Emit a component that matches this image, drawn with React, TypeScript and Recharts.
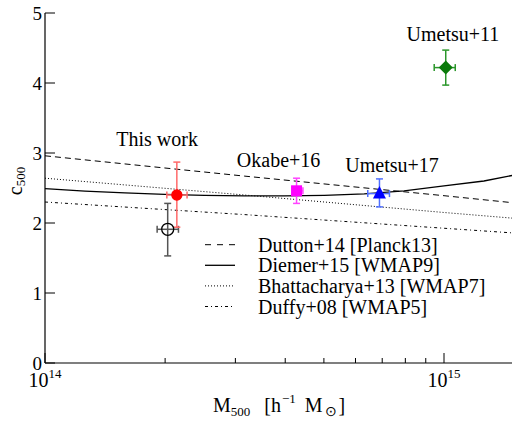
import React from 'react';
import { ComposedChart, Line, Scatter, XAxis, YAxis, ErrorBar } from 'recharts';

const FONT = "'Liberation Serif','Times New Roman',Times,serif";

// model curves (mass in h^-1 Msun, concentration c500)
const modelMass = [1e14, 3.162e14, 1e15, 1.515e15];
const duttonC = [2.96, 2.67, 2.39, 2.285];
const bhattC = [2.64, 2.4, 2.15, 2.065];
const duffyC = [2.3, 2.12, 1.925, 1.855];

const diemerMass = [1e14, 1.259e14, 1.585e14, 1.995e14, 2.512e14, 3.162e14, 3.981e14, 5.012e14, 6.31e14, 7.943e14, 1e15, 1.259e15, 1.515e15];
const diemerC = [2.49, 2.455, 2.43, 2.41, 2.395, 2.387, 2.387, 2.395, 2.415, 2.46, 2.53, 2.6, 2.69];

// observations
const obsNames = ['This work', 'Black', 'Okabe+16', 'Umetsu+17', 'Umetsu+11'];
const obsMass = [2.14e14, 2.03e14, 4.27e14, 6.89e14, 1.01e15];
const obsC = [2.4, 1.91, 2.46, 2.42, 4.22];
const massErrLo = [0.12e14, 0.12e14, 0.09e14, 0.45e14, 0.065e15];
const massErrHi = [0.13e14, 0.13e14, 0.16e14, 0.41e14, 0.057e15];
const cErrLo = [0.46, 0.38, 0.18, 0.19, 0.25];
const cErrHi = [0.47, 0.37, 0.18, 0.21, 0.25];

// annotation texts and anchor (data coords)
const annText = ['This work', 'Okabe+16', 'Umetsu+17', 'Umetsu+11'];
const annMass = [1.91e14, 3.85e14, 7.41e14, 1.053e15];
const annC = [3.1, 2.794, 2.733, 4.6];

const xTicks = [1e14, 2e14, 3e14, 4e14, 5e14, 6e14, 7e14, 8e14, 9e14, 1e15];
const yTicks = [0, 1, 2, 3, 4, 5];

const legendLabels = ['Dutton+14 [Planck13]', 'Diemer+15 [WMAP9]', 'Bhattacharya+13 [WMAP7]', 'Duffy+08 [WMAP5]'];

const line = (m: number[], c: number[]) => m.map((x, i) => ({ x, y: c[i] }));
const obs = (i: number) => [{ x: obsMass[i], y: obsC[i], ex: [massErrLo[i], massErrHi[i]], ey: [cErrLo[i], cErrHi[i]] }];
const annData = annText.map((t, i) => ({ x: annMass[i], y: annC[i], t }));

const isMajor = (v: number) => v === 1e14 || v === 1e15;
const expOf = (v: number) => Math.round(Math.log10(v));

const BottomTick = (p: any) => {
  const v = p.payload.value;
  const major = isMajor(v);
  return (
    <g>
      <line x1={p.x} x2={p.x} y1={p.y} y2={p.y - (major ? 10 : 5)} stroke="#000" strokeWidth={1} />
      {major && (
        <text x={p.x} y={p.y + 24} textAnchor="middle" fontFamily={FONT} fontSize={20} fill="#000">
          10<tspan fontSize={13} dy={-9}>{expOf(v)}</tspan>
        </text>
      )}
    </g>
  );
};
const TopTick = (p: any) => {
  const v = p.payload.value;
  const major = isMajor(v);
  return <line x1={p.x} x2={p.x} y1={p.y} y2={p.y + (major ? 10 : 5)} stroke="#000" strokeWidth={1} />;
};
const LeftTick = (p: any) => (
  <g>
    <line x1={p.x} x2={p.x + 10} y1={p.y} y2={p.y} stroke="#000" strokeWidth={1} />
    <text x={p.x - 3} y={p.y} dy={6.5} textAnchor="end" fontFamily={FONT} fontSize={19} fill="#000">
      {p.payload.value}
    </text>
  </g>
);
const RightTick = (p: any) => (
  <line x1={p.x} x2={p.x - 10} y1={p.y} y2={p.y} stroke="#000" strokeWidth={1} />
);

const XLabel = (p: any) => {
  const vb = p.viewBox;
  return (
    <text x={213} y={vb.y + 49} fontFamily={FONT} fontSize={20} fill="#000">
      M<tspan fontSize={13} dy={4}>500</tspan>
      <tspan dx={14} dy={-4}>[h</tspan>
      <tspan fontSize={13} dx={1} dy={-9}>−1</tspan>
      <tspan dx={9} dy={9}>M</tspan>
      <tspan fontSize={14} dx={2} dy={4}>⊙</tspan>
      <tspan dx={2} dy={-4}>]</tspan>
    </text>
  );
};
const YLabel = () => (
  <text transform="translate(22,181) rotate(-90)" textAnchor="middle" fontFamily={FONT} fontSize={20} fill="#000">
    c<tspan fontSize={13} dy={3}>500</tspan>
  </text>
);

const circleShape = (fill: string, stroke: string, r: number) => (p: any) =>
  <circle cx={p.cx} cy={p.cy} r={r} fill={fill} stroke={stroke} strokeWidth={1.3} />;
const squareShape = (p: any) => <rect x={p.cx - 5.5} y={p.cy - 5.5} width={11} height={11} fill="#ff00ff" />;
const triShape = (p: any) => (
  <polygon points={`${p.cx},${p.cy - 7.5} ${p.cx - 6.5},${p.cy + 5} ${p.cx + 6.5},${p.cy + 5}`} fill="#0000ff" />
);
const diamondShape = (p: any) => (
  <polygon points={`${p.cx},${p.cy - 7} ${p.cx + 7},${p.cy} ${p.cx},${p.cy + 7} ${p.cx - 7},${p.cy}`} fill="#0a7a0a" />
);
const textShape = (p: any) => (
  <text x={p.cx} y={p.cy} textAnchor="middle" fontFamily={FONT} fontSize={20} fill="#000">
    {p.payload.t}
  </text>
);

const legendStyles = [
  { dash: '6 6', w: 1 },
  { dash: '', w: 1.3 },
  { dash: '1 2', w: 1 },
  { dash: '3 3 1 3', w: 1 },
];

export default function App() {
  const errProps = (color: string) => ({ stroke: color, strokeWidth: 1.5, width: 3.5 });
  const pts: [number, any, string][] = [
    [1, circleShape('none', '#000', 6), '#555'],
    [0, circleShape('#ff0000', '#ff0000', 5), '#ff6a6a'],
    [2, squareShape, '#ff44ff'],
    [3, triShape, '#5070ff'],
    [4, diamondShape, '#2a962a'],
  ];
  return (
    <div style={{ position: 'absolute', left: 0, top: 0, width: 512, height: 423, overflow: 'hidden', background: '#fff' }}>
      <ComposedChart width={516} height={423} margin={{ top: 13, right: 0, bottom: 0, left: 0 }}>
        <XAxis xAxisId="b" type="number" dataKey="x" scale="log" domain={[1e14, 1.515e15]} allowDataOverflow
          ticks={xTicks} interval={0} tick={BottomTick} tickLine={false} tickSize={0} tickMargin={0} height={60}
          axisLine={{ stroke: '#000', strokeWidth: 1.2 }} label={XLabel} />
        <XAxis xAxisId="t" orientation="top" type="number" dataKey="x" scale="log" domain={[1e14, 1.515e15]} allowDataOverflow
          ticks={xTicks} interval={0} tick={TopTick} tickLine={false} tickSize={0} tickMargin={0} height={0}
          axisLine={{ stroke: '#000', strokeWidth: 1.2 }} />
        <YAxis yAxisId="l" type="number" domain={[0, 5]} ticks={yTicks} interval={0} tick={LeftTick} tickLine={false}
          tickSize={0} tickMargin={0} width={45} axisLine={{ stroke: '#000', strokeWidth: 1.2 }} label={YLabel} />
        <YAxis yAxisId="r" orientation="right" type="number" domain={[0, 5]} ticks={yTicks} interval={0} tick={RightTick}
          tickLine={false} tickSize={0} tickMargin={0} width={0} axisLine={{ stroke: '#000', strokeWidth: 1.2 }} />

        <Line xAxisId="b" yAxisId="l" data={line(modelMass, duttonC)} dataKey="y" stroke="#000" strokeWidth={1}
          strokeDasharray="6 4" dot={false} isAnimationActive={false} type="linear" />
        <Line xAxisId="b" yAxisId="l" data={line(diemerMass, diemerC)} dataKey="y" stroke="#000" strokeWidth={1.3}
          dot={false} isAnimationActive={false} type="linear" />
        <Line xAxisId="b" yAxisId="l" data={line(modelMass, bhattC)} dataKey="y" stroke="#000" strokeWidth={1}
          strokeDasharray="1 2" dot={false} isAnimationActive={false} type="linear" />
        <Line xAxisId="b" yAxisId="l" data={line(modelMass, duffyC)} dataKey="y" stroke="#000" strokeWidth={1}
          strokeDasharray="3 3 1 3" dot={false} isAnimationActive={false} type="linear" />

        {pts.map(([i, shape, ec]) => (
          <Scatter key={obsNames[i]} name={obsNames[i]} xAxisId="b" yAxisId="l" data={obs(i)} dataKey="y" shape={shape}
            isAnimationActive={false}>
            <ErrorBar dataKey="ey" direction="y" {...errProps(ec)} />
            <ErrorBar dataKey="ex" direction="x" {...errProps(ec)} />
          </Scatter>
        ))}
        <Scatter xAxisId="b" yAxisId="l" data={annData} dataKey="y" shape={textShape} isAnimationActive={false} />
      </ComposedChart>
      <svg width={312} height={90} style={{ position: 'absolute', left: 200, top: 232 }}>
        {legendLabels.map((lab, i) => {
          const base = 19.7 + i * 20.6;
          const st = legendStyles[i];
          return (
            <g key={lab}>
              <line x1={5} x2={35} y1={base - 7} y2={base - 7} stroke="#000" strokeWidth={st.w} strokeDasharray={st.dash} />
              <text x={58} y={base} fontFamily={FONT} fontSize={20} fill="#000">{lab}</text>
            </g>
          );
        })}
      </svg>
    </div>
  );
}
